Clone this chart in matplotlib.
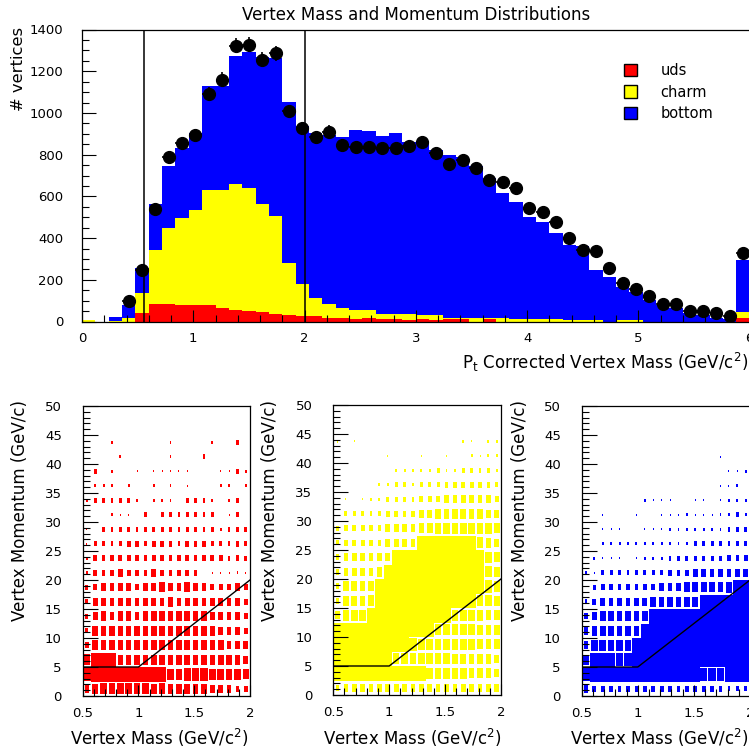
import numpy as np
import matplotlib
matplotlib.use("Agg")
import matplotlib.pyplot as plt
from matplotlib.patches import Patch
from matplotlib.ticker import MultipleLocator

plt.rcParams['font.family'] = ['DejaVu Sans']
plt.rcParams['mathtext.default'] = 'regular'

W, H = 749, 751

# ---------------- top histogram: 50 bins from 0 to 6 GeV ----------------
mass_range = (0.0, 6.0)
n_mass_bins = 50
uds = [0, 0, 0, 0, 42, 83, 83, 78, 77, 77,
       63, 55, 48, 45, 37, 33, 25, 24, 19, 17,
       14, 15, 12, 10, 8, 10, 8, 10, 12, 0,
       10, 0, 0, 0, 0, 0, 0, 0, 0, 0,
       0, 0, 0, 0, 0, 0, 0, 0, 0, 15]
charm = [8, 0, 4, 15, 96, 260, 364, 417, 458, 553,
         567, 603, 592, 518, 468, 249, 153, 87, 65, 46,
         43, 40, 24, 26, 28, 21, 23, 5, 3, 15,
         5, 15, 12, 12, 10, 10, 8, 8, 8, 0,
         8, 8, 0, 0, 0, 0, 0, 0, 0, 32]
bottom = [0, 0, 18, 64, 117, 220, 300, 335, 370, 497,
          497, 615, 654, 707, 757, 772, 759, 791, 811, 823,
          861, 857, 854, 869, 826, 819, 789, 785, 775, 730,
          675, 599, 562, 487, 469, 413, 359, 352, 239, 215,
          159, 135, 103, 79, 63, 39, 31, 19, 12, 248]
data = [0, 0, 0, 97, 247, 540, 788, 855, 892, 1090,
        1160, 1323, 1328, 1256, 1286, 1008, 926, 885, 910, 846,
        838, 837, 834, 834, 841, 860, 806, 756, 774, 734,
        678, 671, 642, 543, 527, 479, 399, 343, 340, 255,
        186, 154, 122, 84, 84, 52, 52, 42, 26, 327]
cut_lines = [0.56, 2.0]
legend_labels = ['uds', 'charm', 'bottom']
colors = ['#ff0000', '#ffff00', '#0000ff']

# ---------------- 2D box plots: 20 x 20 cells, mass 0.5-2, momentum 0-50 ----------------
box_mass_range = (0.5, 2.0)
box_mom_range = (0.0, 50.0)
# relative box size per cell (0..9), rows listed from top (47.5-50) to bottom (0-2.5)
uds_box = [
    "00000000000000000000",
    "00000000000000000000",
    "00020000002000020030",
    "00002000002000300000",
    "03020010111110001132",
    "02220200202010002202",
    "23333320222033320230",
    "00021103033333330130",
    "10333333333333332333",
    "13333443444344433343",
    "24444444444444444343",
    "24445444544444111121",
    "34555545565565544454",
    "35555555556555555554",
    "35656656666666655554",
    "36666666666666665554",
    "46666666666666666555",
    "79996666666666666665",
    "89999999997788877776",
    "56777777676666655544",
]
charm_box = [
    "00000000000000000000",
    "00000000000000000000",
    "20100000000000021022",
    "00000010001001002122",
    "00001002222232233332",
    "00000223323334444443",
    "01012233334445555554",
    "03333344445566666655",
    "34444455556677777776",
    "34444455559999999765",
    "45555559999999999976",
    "45555699999999999976",
    "46666999999999999987",
    "46667999999999999776",
    "57779999999999777766",
    "99999999999977777666",
    "99999999987777777666",
    "99999997777777666665",
    "99999999999777776665",
    "45555555555555555555",
]
bottom_box = [
    "00000000000000000000",
    "00000000000000000000",
    "00000000000000000000",
    "00000000000000001000",
    "00000000000000000112",
    "00000000000000001120",
    "00000002111001101222",
    "00100010011121112232",
    "00111101112222222333",
    "00222222222223333333",
    "02111112223333333444",
    "21333333334445555555",
    "03444444455566666799",
    "34555555666666999999",
    "45666666999999999999",
    "56666669999999999999",
    "57777799999999999999",
    "69998899999999999999",
    "89999999999999888999",
    "54444444444444444333",
]
cut_mass = [0.5, 1.0, 2.0]
cut_momentum = [5.0, 5.0, 20.0]

fig = plt.figure(figsize=(W / 100, H / 100), dpi=100)


def rect(l, t, r, b):
    return [l / W, 1 - b / H, (r - l) / W, (b - t) / H]


def fx(x):
    return x / W


def fy(y):
    return 1 - y / H


TICK_FS = 9.5
LAB_FS = 12

# ---------------- top panel ----------------
ax = fig.add_axes(rect(82, 29.5, 749.6, 321.5))
edges = np.linspace(mass_range[0], mass_range[1], n_mass_bins + 1)
u = np.array(uds, float)
c = np.array(charm, float)
b = np.array(bottom, float)
tot = u + c + b
ax.stairs(tot, edges, baseline=0, fill=True, color=colors[2], lw=0)
ax.stairs(u + c, edges, baseline=0, fill=True, color=colors[1], lw=0)
ax.stairs(u, edges, baseline=0, fill=True, color=colors[0], lw=0)

d = np.array(data, float)
centers = 0.5 * (edges[:-1] + edges[1:])
m = d > 0
ax.errorbar(centers[m], d[m], yerr=np.sqrt(d[m]), xerr=0.5 * (edges[1] - edges[0]),
            fmt='o', color='black', ms=8.5, elinewidth=1.2, capsize=0)
for xv in cut_lines:
    ax.axvline(xv, color='black', lw=1.1)

ax.set_xlim(*mass_range)
ax.set_ylim(0, 1400)
ax.xaxis.set_major_locator(MultipleLocator(1))
ax.xaxis.set_minor_locator(MultipleLocator(0.2))
ax.yaxis.set_major_locator(MultipleLocator(200))
ax.yaxis.set_minor_locator(MultipleLocator(50))
ax.tick_params(axis='y', which='major', direction='in', length=10, width=0.8,
               pad=13.5, labelsize=TICK_FS)
ax.tick_params(axis='y', which='minor', direction='in', length=5, width=0.8)
ax.tick_params(axis='x', which='major', direction='in', length=8.5, width=0.8,
               pad=7.5, labelsize=TICK_FS)
ax.tick_params(axis='x', which='minor', direction='in', length=5, width=0.8)
for s in ax.spines.values():
    s.set_linewidth(0.9)

handles = [Patch(facecolor=col, edgecolor='black', lw=1.0) for col in colors]
ax.legend(handles, legend_labels, loc='upper left',
          bbox_to_anchor=(fx(624), fy(63)), bbox_transform=fig.transFigure,
          frameon=False, fontsize=10.5, handlelength=0.9, handleheight=0.9,
          handletextpad=1.6, labelspacing=0.45, borderpad=0, borderaxespad=0)

fig.text(fx(416), fy(15), 'Vertex Mass and Momentum Distributions',
         ha='center', va='center', fontsize=12)
fig.text(fx(19), fy(27), '# vertices', rotation=90, ha='center', va='top',
         fontsize=11.8)
fig.text(fx(748), fy(362), 'P$_t$ Corrected Vertex Mass (GeV/c$^2$)',
         ha='right', va='center', fontsize=LAB_FS)

# ---------------- bottom panels ----------------
panels = [
    (uds_box, colors[0], (82.7, 406, 250, 696), 20, 248),
    (charm_box, colors[1], (333.3, 405, 501, 695), 270, 501),
    (bottom_box, colors[2], (581.7, 406, 750, 696), 520, 748),
]
nx, ny = 20, 20
dx = (box_mass_range[1] - box_mass_range[0]) / nx
dy = (box_mom_range[1] - box_mom_range[0]) / ny
for rows, col, r, ylab_x, xlab_r in panels:
    a = fig.add_axes(rect(*r))
    grid = np.array([[int(ch) for ch in row] for row in rows[::-1]], float) / 9.0
    jj, kk = np.nonzero(grid)
    fr = grid[jj, kk]
    xc = box_mass_range[0] + (kk + 0.5) * dx
    yc = box_mom_range[0] + (jj + 0.5) * dy
    w = dx * fr
    h = dy * fr
    a.bar(xc, h, width=w, bottom=yc - h / 2, color=col, linewidth=0,
          antialiased=False)
    a.plot(cut_mass, cut_momentum, color='black', lw=1.0)
    a.set_xlim(*box_mass_range)
    a.set_ylim(*box_mom_range)
    a.xaxis.set_major_locator(MultipleLocator(0.5))
    a.xaxis.set_minor_locator(MultipleLocator(0.1))
    a.yaxis.set_major_locator(MultipleLocator(5))
    a.yaxis.set_minor_locator(MultipleLocator(1))
    a.set_xticks([0.5, 1.0, 1.5, 2.0])
    a.set_xticklabels(['0.5', '1', '1.5', '2'])
    a.tick_params(axis='y', which='major', direction='in', length=11, width=0.8,
                  pad=15, labelsize=TICK_FS)
    a.tick_params(axis='y', which='minor', direction='in', length=5, width=0.8)
    a.tick_params(axis='x', which='major', direction='in', length=8, width=0.8,
                  pad=8, labelsize=TICK_FS)
    a.tick_params(axis='x', which='minor', direction='in', length=5, width=0.8)
    for s in a.spines.values():
        s.set_linewidth(0.9)
    fig.text(fx(ylab_x), fy(400), 'Vertex Momentum (GeV/c)', rotation=90,
             ha='center', va='top', fontsize=LAB_FS)
    fig.text(fx(xlab_r), fy(738), 'Vertex Mass (GeV/c$^2$)', ha='right',
             va='center', fontsize=LAB_FS)

fig.savefig('out.png', dpi=100)
